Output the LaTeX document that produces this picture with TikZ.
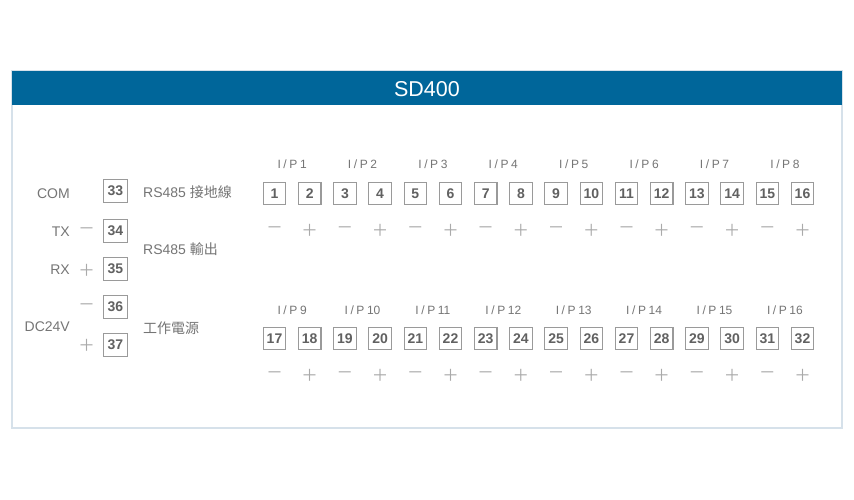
\documentclass[tikz,border=0pt]{standalone}
\usepackage{fontspec}
\setmainfont{Liberation Sans}
\newfontfamily\cjk{Noto Sans CJK TC}
\definecolor{hdr}{HTML}{00669A}
\definecolor{frm}{HTML}{D6E1EA}
\definecolor{boxc}{HTML}{9A9A9A}
\definecolor{numc}{HTML}{616161}
\definecolor{txtc}{HTML}{757575}
\definecolor{sgnc}{HTML}{AAAAAA}
\newcommand\ipl[1]{I\hspace{2.6pt}/\hspace{2.6pt}P\hspace{2.6pt}#1}
\begin{document}
\begin{tikzpicture}[x=1pt,y=-1pt,
  tbox/.style={draw=boxc,line width=1.1pt,minimum width=22.5pt,minimum height=22.5pt,inner sep=0pt,text=numc,font=\bfseries\fontsize{14}{16}\selectfont},
  lbox/.style={tbox,minimum width=23.5pt,minimum height=23.5pt},
  lbl/.style={text=txtc,inner sep=0pt,font=\fontsize{14}{16}\selectfont},
  ipl/.style={text=txtc,inner sep=0pt,font=\fontsize{12}{14}\selectfont},
  sgn/.style={text=sgnc,inner sep=0pt,font=\cjk\fontsize{16.5}{18}\selectfont}]
\useasboundingbox (0,0) rectangle (854,500);
\fill[white] (0,0) rectangle (854,500);
\draw[frm,line width=1.5pt,fill=white] (12,71) rectangle (842,428);
\fill[hdr] (12,71) rectangle (842,105);
\node[text=white,inner sep=0pt,font=\fontsize{21.5}{24}\selectfont] (title) at (427,89.5) {SD400};
% input terminals
\foreach \i in {1,...,16} {
  \pgfmathsetmacro\xx{274.5+35.2*(\i-1)}
  \pgfmathtruncatemacro\j{\i+16}
  \pgfmathtruncatemacro\od{mod(\i,2)}
  \node[tbox] (b\i) at (\xx,193.5) {\i};
  \node[tbox] (b\j) at (\xx,338.5) {\j};
  \ifnum\od=1
    \node[sgn] (s\i) at (\xx,230) {－};
    \node[sgn] (s\j) at (\xx,375) {－};
  \else
    \node[sgn] (s\i) at (\xx,230) {＋};
    \node[sgn] (s\j) at (\xx,375) {＋};
  \fi
}
\foreach \k in {1,...,8} {
  \pgfmathsetmacro\xx{274.5+35.2*(2*\k-2)+17.6}
  \pgfmathtruncatemacro\m{\k+8}
  \node[ipl] (p\k) at (\xx,164) {\ipl{\k}};
  \node[ipl] (p\m) at (\xx,310) {\ipl{\m}};
}
% left terminals
\node[lbox] (b33) at (115.5,191) {33};
\node[lbox] (b34) at (115.5,231) {34};
\node[lbox] (b35) at (115.5,269) {35};
\node[lbox] (b36) at (115.5,307) {36};
\node[lbox] (b37) at (115.5,345) {37};
\node[lbl,anchor=east] (com) at (70,194) {COM};
\node[lbl,anchor=east] (tx) at (70,232) {TX};
\node[lbl,anchor=east] (rx) at (70,270) {RX};
\node[lbl,anchor=east] (dc) at (70,327) {DC24V};
\node[sgn] (s34) at (86.5,231) {－};
\node[sgn] (s35) at (86.5,270) {＋};
\node[sgn] (s36) at (86.5,307) {－};
\node[sgn] (s37) at (86.5,345) {＋};
\node[lbl,anchor=west] (r1) at (143,192) {RS485 {\cjk 接地線}};
\node[lbl,anchor=west] (r2) at (143,249) {RS485 {\cjk 輸出}};
\node[lbl,anchor=west] (r3) at (143,328) {{\cjk 工作電源}};
\end{tikzpicture}
\end{document}
